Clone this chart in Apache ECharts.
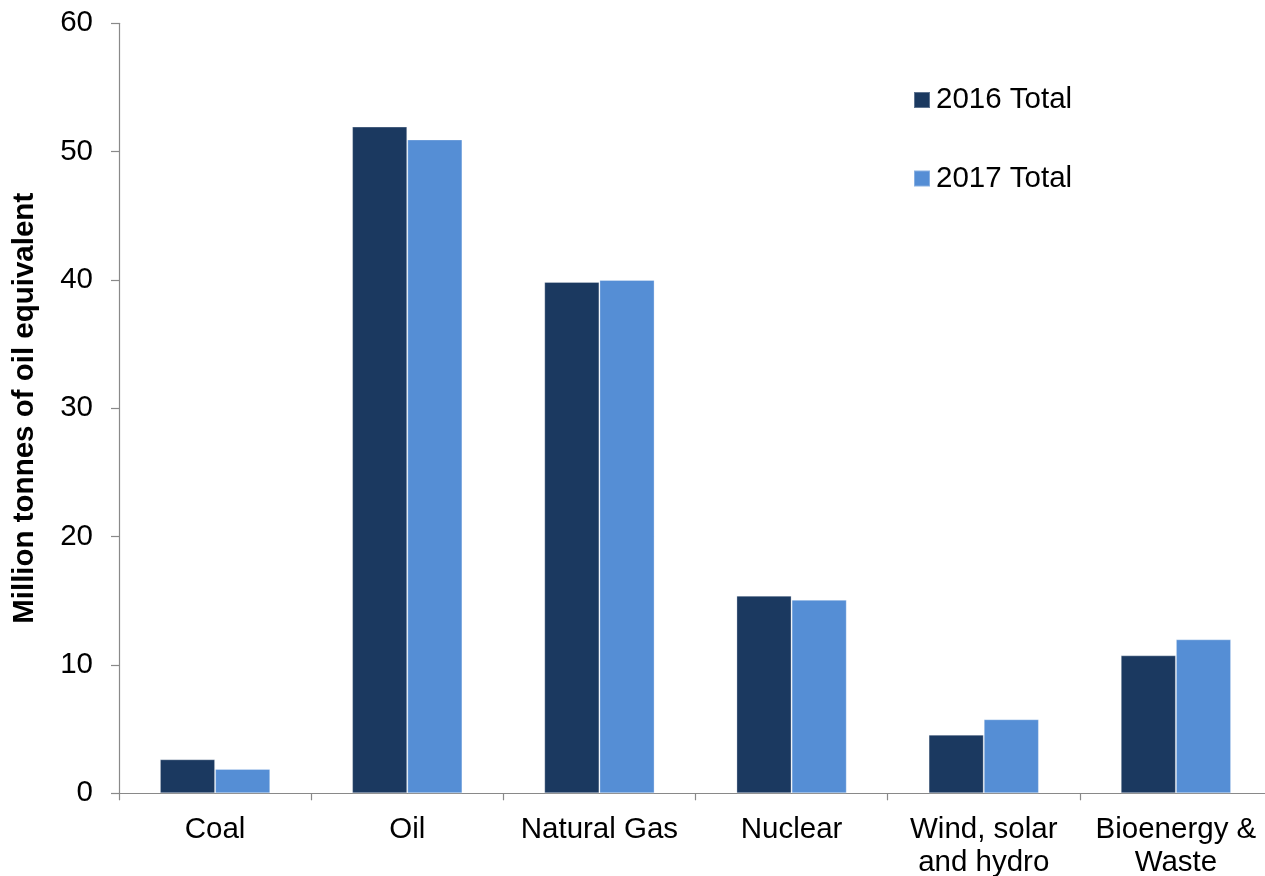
<!DOCTYPE html>
<html>
<head>
<meta charset="utf-8">
<script src="https://cdn.jsdelivr.net/npm/echarts@6/dist/echarts.min.js"></script>
<style>
  html, body { margin: 0; padding: 0; background: #ffffff; }
  #chart { width: 1265px; height: 876px; }
</style>
</head>
<body>
<div id="chart"></div>
<script>
// Primary energy consumption by fuel, million tonnes of oil equivalent
const categories = ['Coal', 'Oil', 'Natural Gas', 'Nuclear', 'Wind, solar\nand hydro', 'Bioenergy &\nWaste'];
const total2016 = [2.65, 51.95, 39.85, 15.4, 4.57, 10.75];
const total2017 = [1.9, 50.95, 40.0, 15.08, 5.77, 12.0];
const yTicks = { min: 0, max: 60, interval: 10 };

const font = 'Liberation Sans, Arial, sans-serif';
const axisGrey = '#898989';
const fs = 29.5;

const chart = echarts.init(document.getElementById('chart'));
chart.setOption({
  animation: false,
  backgroundColor: '#ffffff',
  textStyle: { fontFamily: font },
  grid: { left: 119, top: 23.3, width: 1153, bottom: 82.7, containLabel: false, outerBoundsMode: 'none' },
  legend: {
    orient: 'vertical',
    left: 913,
    top: 85,
    padding: 0,
    itemWidth: 16,
    itemHeight: 16,
    itemGap: 48.5,
    icon: 'rect',
    textStyle: { fontSize: fs, color: '#000000', fontFamily: font, padding: [0, 0, 0, 1] },
    data: ['2016 Total', '2017 Total']
  },
  xAxis: {
    type: 'category',
    data: categories,
    axisLine: { lineStyle: { color: axisGrey, width: 1.2 } },
    axisTick: { show: true, length: 7, lineStyle: { color: axisGrey, width: 1.2 } },
    axisLabel: { fontSize: fs, color: '#000000', lineHeight: 33, margin: 20, fontFamily: font, interval: 0 }
  },
  yAxis: {
    type: 'value',
    min: yTicks.min,
    max: yTicks.max,
    interval: yTicks.interval,
    name: 'Million tonnes of oil equivalent',
    nameLocation: 'middle',
    nameRotate: 90,
    nameGap: 79,
    nameTextStyle: { fontSize: fs, fontWeight: 'bold', color: '#000000', fontFamily: font },
    axisLine: { show: true, lineStyle: { color: axisGrey, width: 1.2 } },
    axisTick: { show: true, length: 8, lineStyle: { color: axisGrey, width: 1.2 } },
    axisLabel: { fontSize: fs, color: '#000000', margin: 26, fontFamily: font },
    splitLine: { show: false }
  },
  series: [
    {
      name: '2016 Total',
      type: 'bar',
      data: total2016,
      barGap: '0%',
      barCategoryGap: '42.6%',
      itemStyle: { color: '#1B3960', borderColor: 'rgba(255,255,255,0.3)', borderWidth: 1 }
    },
    {
      name: '2017 Total',
      type: 'bar',
      data: total2017,
      barGap: '0%',
      barCategoryGap: '42.6%',
      itemStyle: { color: '#558ED5', borderColor: 'rgba(255,255,255,0.3)', borderWidth: 1 }
    }
  ]
});
</script>
</body>
</html>
